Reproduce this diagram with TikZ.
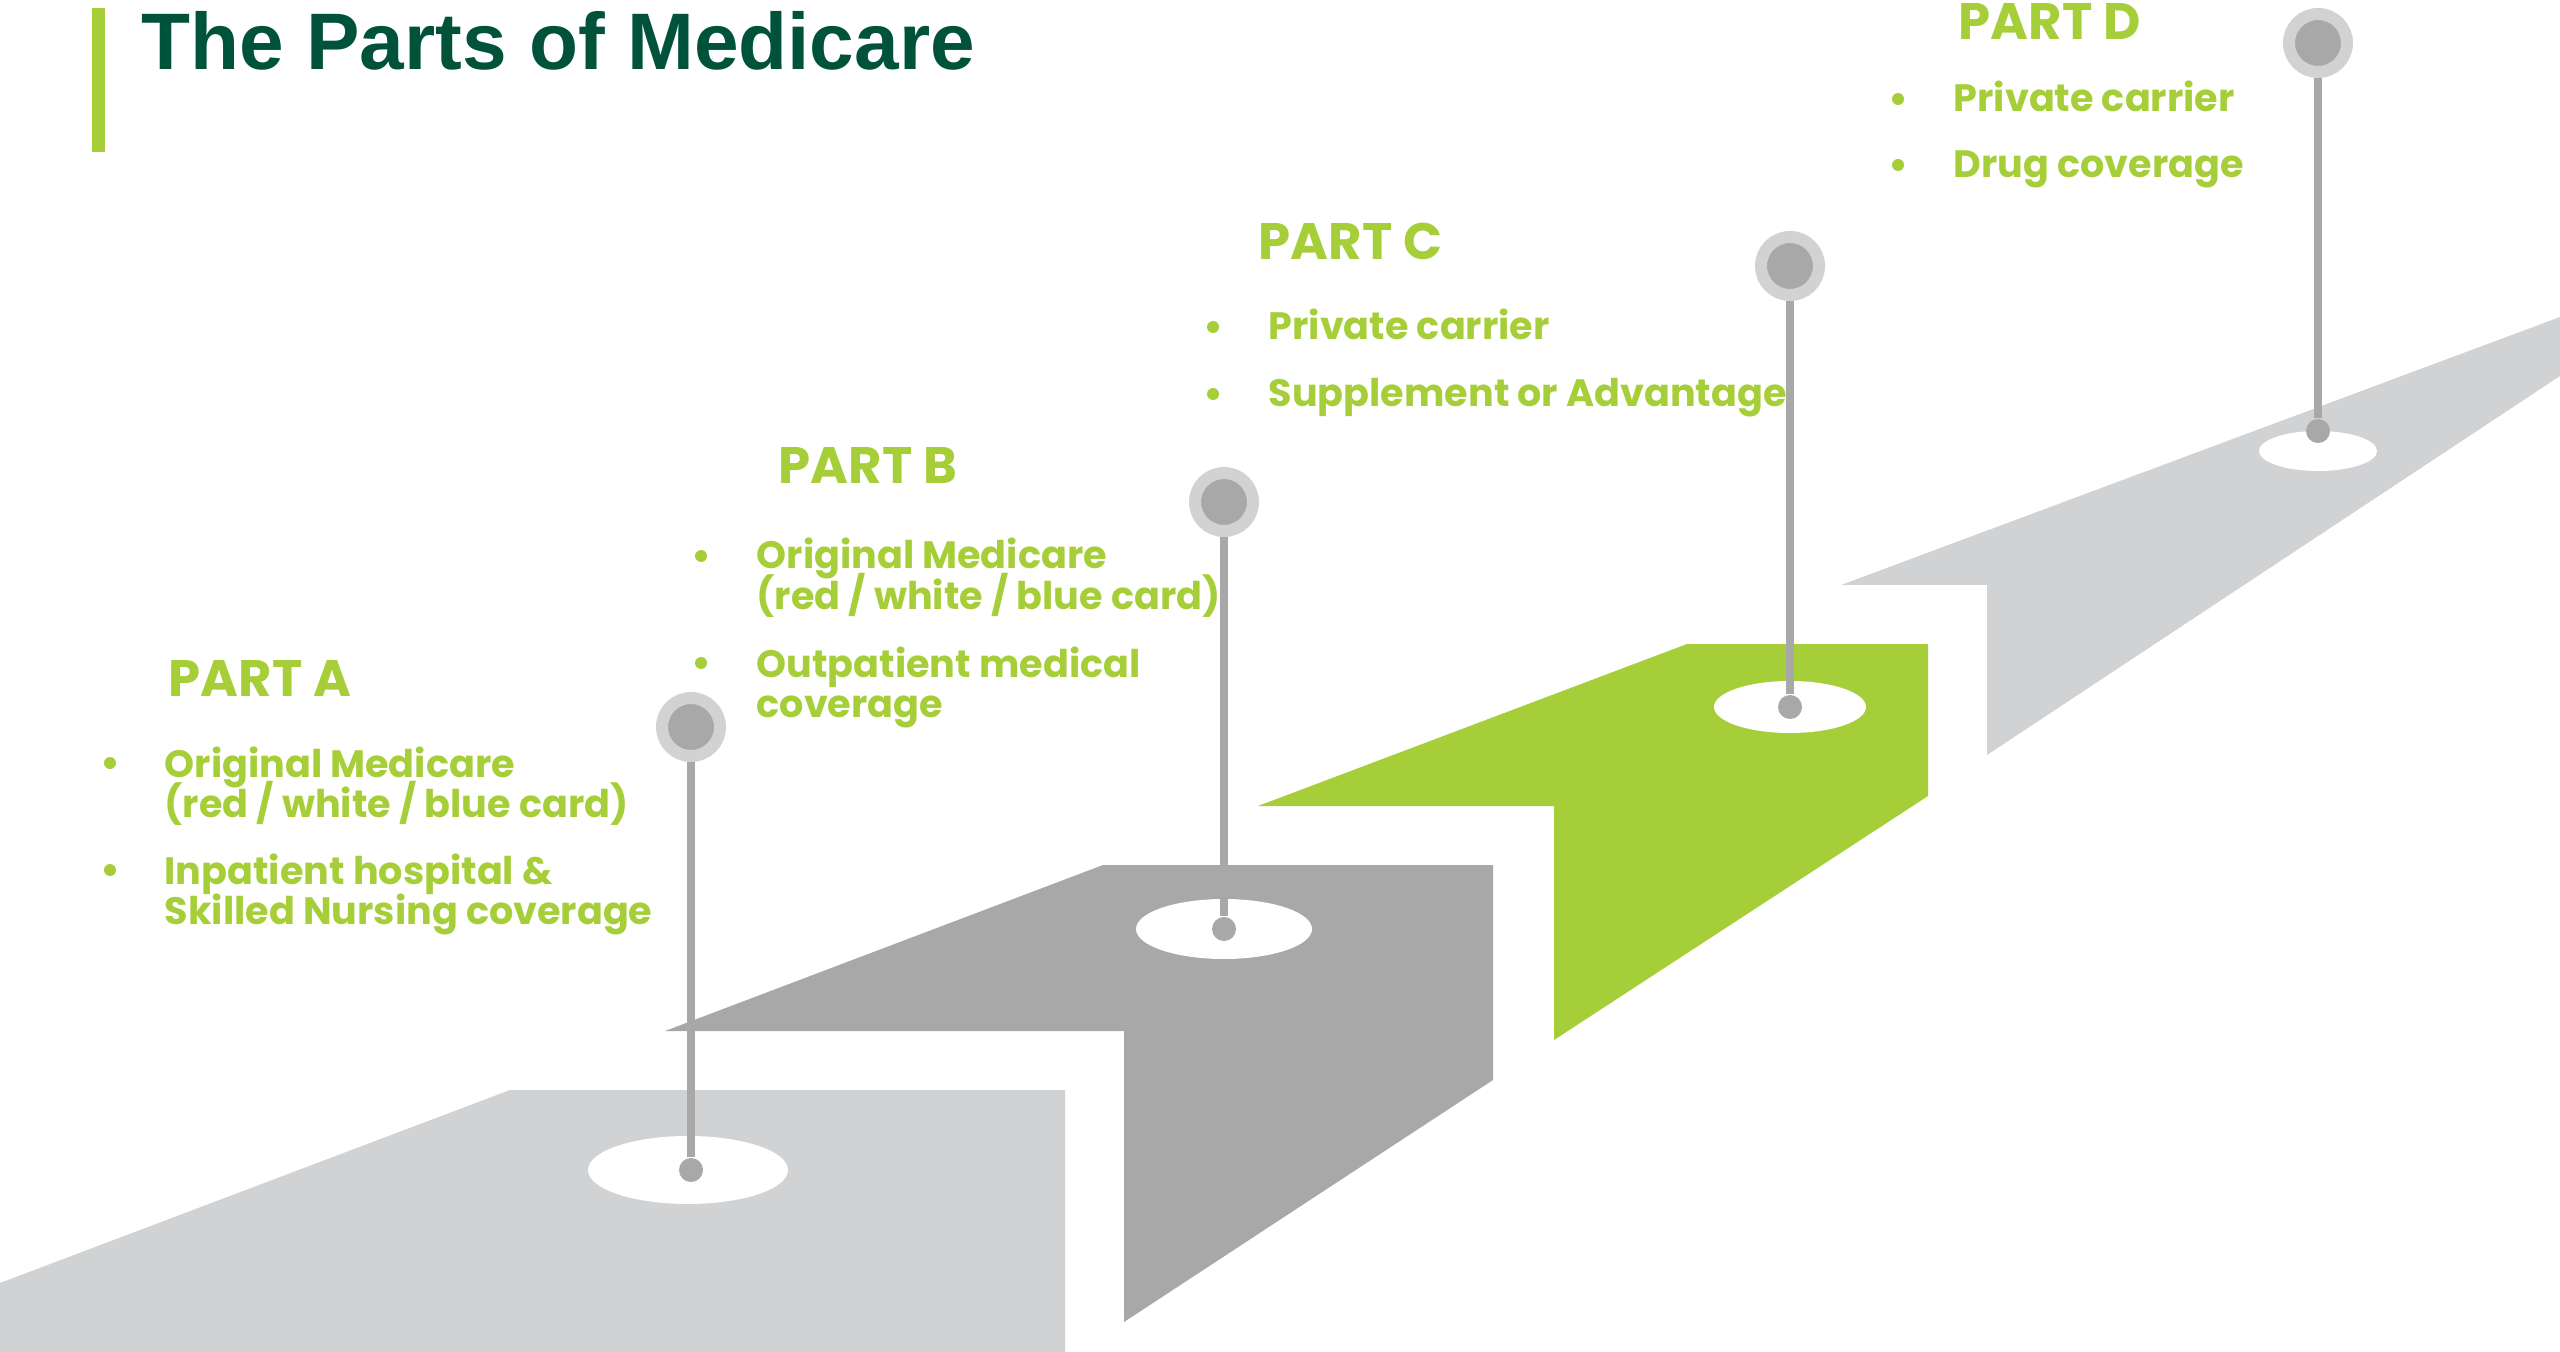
\documentclass[tikz,border=0pt]{standalone}
\usepackage{fontspec}
\setmainfont{Liberation Sans}
\newfontfamily\partfont{Poppins}
\usetikzlibrary{shapes.geometric}

\definecolor{titlegreen}{HTML}{00533A}
\definecolor{partgreen}{HTML}{A6CE39}
\definecolor{steplight}{HTML}{D1D2D4}
\definecolor{stepdark}{HTML}{A8A8A8}

\begin{document}
\begin{tikzpicture}[x=0.01cm, y=-0.01cm,
  parthead/.style={anchor=base west, inner sep=0, text=partgreen,
    font=\partfont\bfseries\fontsize{14.6}{17}\selectfont},
  partitem/.style={anchor=base west, inner sep=0, text=partgreen,
    font=\partfont\bfseries\fontsize{10.85}{13}\selectfont},
  itemdot/.style={circle, fill=partgreen, inner sep=0, minimum size=0.12cm},
  pinhead/.style={circle, fill=stepdark, draw=steplight, line width=0.12cm,
    inner sep=0, minimum size=0.58cm},
  pinfoot/.style={circle, fill=stepdark, inner sep=0, minimum size=0.24cm},
  pinstem/.style={draw=stepdark, line width=0.08cm}]
\useasboundingbox (0,0) rectangle (2560,1352);

% title
\fill[partgreen] (92,8) rectangle (105,152);
\node[anchor=base west, inner sep=0, text=titlegreen,
  font=\bfseries\fontsize{22.8}{26}\selectfont] (title) at (141,70) {The Parts of Medicare};

% steps
\fill[steplight] (0,1283) -- (510,1090) -- (1065,1090) -- (1065,1352) -- (0,1352) -- cycle;
\fill[stepdark] (665,1031) -- (1103,865) -- (1493,865) -- (1493,1080) -- (1124,1322) -- (1124,1031) -- cycle;
\fill[partgreen] (1258,806) -- (1687,644) -- (1928,644) -- (1928,796) -- (1554,1040) -- (1554,806) -- cycle;
\fill[steplight] (1841,585) -- (2560,317) -- (2560,376) -- (1987,755) -- (1987,585) -- cycle;

% holes
\fill[white] (688,1170) ellipse (100 and 34);
\fill[white] (1224,929) ellipse (88 and 30);
\fill[white] (1790,707) ellipse (76 and 26);
\fill[white] (2318,451) ellipse (59 and 20);

% pins
\node[pinhead] (ha) at (691,727) {};
\node[pinfoot] (fa) at (691,1170) {};
\node[pinhead] (hb) at (1224,502) {};
\node[pinfoot] (fb) at (1224,929) {};
\node[pinhead] (hc) at (1790,266) {};
\node[pinfoot] (fc) at (1790,707) {};
\node[pinhead] (hd) at (2318,43) {};
\node[pinfoot] (fd) at (2318,431) {};
\draw[pinstem] (ha) -- (fa);
\draw[pinstem] (hb) -- (fb);
\draw[pinstem] (hc) -- (fc);
\draw[pinstem] (hd) -- (fd);

% part A
\node[parthead] (pa) at (168,696) {PART A};
\node[itemdot] (da1) at (110,763) {};
\node[partitem] (a1) at (164,777) {Original Medicare};
\node[partitem] (a2) at (164,817) {(red / white / blue card)};
\node[itemdot] (da2) at (110,870) {};
\node[partitem] (a3) at (164,884) {Inpatient hospital \&};
\node[partitem] (a4) at (164,924) {Skilled Nursing coverage};

% part B
\node[parthead] (pb) at (778,484) {PART B};
\node[itemdot] (db1) at (701,556) {};
\node[partitem] (b1) at (756,569) {Original Medicare};
\node[partitem] (b2) at (756,610) {(red / white / blue card)};
\node[itemdot] (db2) at (701,663) {};
\node[partitem] (b3) at (756,677) {Outpatient medical};
\node[partitem] (b4) at (756,717) {coverage};

% part C
\node[parthead] (pc) at (1258,260) {PART C};
\node[itemdot] (dc1) at (1213,327) {};
\node[partitem] (c1) at (1268,340) {Private carrier};
\node[itemdot] (dc2) at (1213,394) {};
\node[partitem] (c2) at (1268,407) {Supplement or Advantage};

% part D
\node[parthead] (pd) at (1958,40) {PART D};
\node[itemdot] (dd1) at (1898,99) {};
\node[partitem] (d1) at (1953,112) {Private carrier};
\node[itemdot] (dd2) at (1898,165) {};
\node[partitem] (d2) at (1953,178) {Drug coverage};
\end{tikzpicture}
\end{document}
